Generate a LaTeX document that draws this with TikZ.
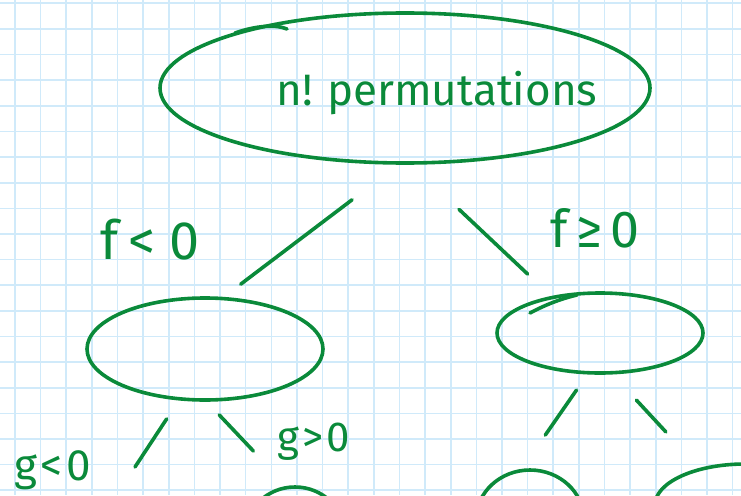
\documentclass[tikz,border=0pt]{standalone}
\usepackage{fontspec}
\setmainfont{Fira Sans}
\usetikzlibrary{shapes.geometric}
\definecolor{inkG}{RGB}{10,138,58}
\definecolor{gridB}{RGB}{208,234,250}

\begin{document}
\begin{tikzpicture}[x=1pt,y=-1pt,font=\fontsize{44}{48}\selectfont]
  \tikzset{blob/.style={ellipse,draw=inkG,line width=3.6pt,inner sep=0pt},
    branch/.style={draw=inkG,line width=3.6pt,line cap=round},
    lbl/.style={text=inkG,inner sep=0pt}}
  \useasboundingbox (0,0) rectangle (741,495);
  \clip (0,0) rectangle (741,495);
  % grid paper
  \foreach \i in {0,...,28} \draw[gridB,line width=1.6pt] (15+25.63*\i,0) -- ++(0,495);
  \foreach \j in {0,...,19} \draw[gridB,line width=1.6pt] (0,3.3+25.63*\j) -- ++(741,0);
  % root and first split
  \node[blob,minimum width=490pt,minimum height=150pt] (perm) at (405,88) {};
  \node[lbl] (permtext) at (437,93) {n!\kern14pt permutations};
  \node[blob,minimum width=236pt,minimum height=102pt] (fneg) at (205,349) {};
  \node[blob,minimum width=206pt,minimum height=80pt] (fpos) at (600,333) {};
  % second split, cut off by the page
  \node[blob,minimum width=100pt,minimum height=96pt] (gpos) at (295,535) {};
  \node[blob,minimum width=108pt,minimum height=100pt] (hneg) at (530,520) {};
  \node[blob,minimum width=180pt,minimum height=82pt] (hpos) at (745,505) {};
  \coordinate (gneg) at (135,467);
  % pen overlaps
  \draw[branch] (235,33) .. controls (255,26) and (275,24) .. (287,29);
  \draw[branch] (530,313) .. controls (545,305) and (560,299) .. (577,295);
  % branches
  \draw[branch,shorten <=58pt,shorten >=21pt] (perm.265) -- (fneg.70);
  \draw[branch,shorten <=65pt,shorten >=32pt] (perm.275) -- (fpos.143);
  \draw[branch,shorten <=22pt] (fneg.243) -- (gneg);
  \draw[branch,shorten <=18pt,shorten >=48pt] (fneg.272) -- (gpos.100);
  \draw[branch,shorten <=19pt,shorten >=41pt] (fpos.253) -- (hneg.99);
  \draw[branch,shorten <=35pt,shorten >=49pt] (fpos.287) -- (hpos.141);
  % conditions
  \node[lbl,font=\fontsize{54}{58}\selectfont] (flt) at (150,240) {f\kern10pt<\kern14pt0};
  \node[lbl,font=\fontsize{52}{56}\selectfont] (fge) at (595,228) {f\kern8pt≥\kern8pt0};
  \node[lbl,font=\fontsize{44}{48}\selectfont] (glt) at (53,470) {g\kern3pt<\kern4pt0};
  \node[lbl,font=\fontsize{42}{46}\selectfont] (ggt) at (314,442) {g\kern3pt>\kern3pt0};
\end{tikzpicture}
\end{document}
